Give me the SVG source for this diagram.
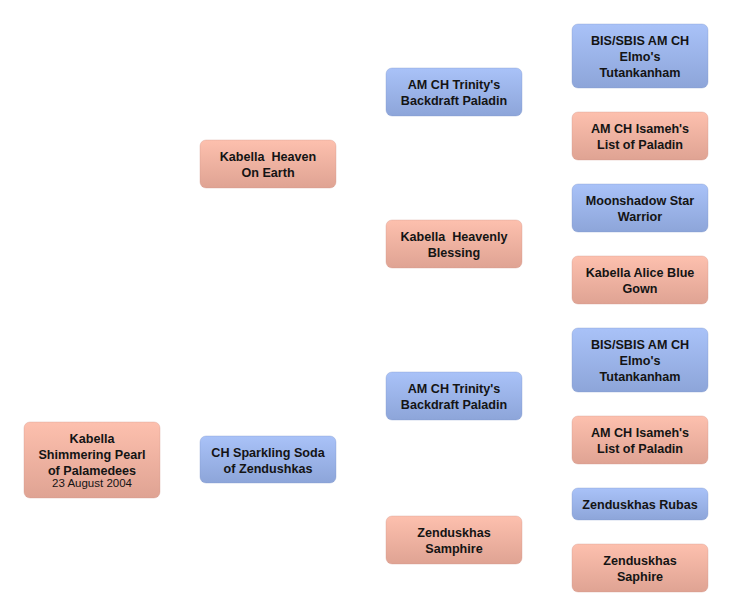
<svg xmlns="http://www.w3.org/2000/svg" width="732" height="616" viewBox="0 0 732 616">
<defs>
<linearGradient id="gp" x1="0" y1="0" x2="0" y2="1">
<stop offset="0" stop-color="#fdc0ae"/>
<stop offset="1" stop-color="#dfa393"/>
</linearGradient>
<linearGradient id="gb" x1="0" y1="0" x2="0" y2="1">
<stop offset="0" stop-color="#a9c2f8"/>
<stop offset="1" stop-color="#8da5d9"/>
</linearGradient>
<style>
.p{fill:url(#gp);stroke:#d0968a;stroke-opacity:0.35;stroke-width:1}
.b{fill:url(#gb);stroke:#7f95c8;stroke-opacity:0.35;stroke-width:1}
text{font-family:"Liberation Sans",Arial,sans-serif;font-size:12.6px;font-weight:bold;fill:#141414;text-anchor:middle;white-space:pre}
text.d{font-weight:normal;font-size:11.5px}
</style>
</defs>
<rect width="732" height="616" fill="#ffffff"/>
<g id="connectors"/>
<g id="n-root"><rect class="p" x="24" y="422" width="136" height="76" rx="6"/>
<text x="92" y="442.5">Kabella</text><text x="92" y="458.5">Shimmering Pearl</text><text x="92" y="474.5">of Palamedees</text><text class="d" x="92" y="486.5">23 August 2004</text></g>
<g id="n-dam"><rect class="p" x="200" y="140" width="136" height="48" rx="6"/>
<text x="268" y="160.5">Kabella  Heaven</text><text x="268" y="176.5">On Earth</text></g>
<g id="n-sire"><rect class="b" x="200" y="436" width="136" height="47" rx="6"/>
<text x="268" y="456.5">CH Sparkling Soda</text><text x="268" y="472.5">of Zendushkas</text></g>
<g id="n-dd-sire"><rect class="b" x="386" y="68" width="136" height="48" rx="6"/>
<text x="454" y="88.5">AM CH Trinity's</text><text x="454" y="104.5">Backdraft Paladin</text></g>
<g id="n-dd-dam"><rect class="p" x="386" y="220" width="136" height="48" rx="6"/>
<text x="454" y="240.5">Kabella  Heavenly</text><text x="454" y="256.5">Blessing</text></g>
<g id="n-ss-sire"><rect class="b" x="386" y="372" width="136" height="48" rx="6"/>
<text x="454" y="392.5">AM CH Trinity's</text><text x="454" y="408.5">Backdraft Paladin</text></g>
<g id="n-ss-dam"><rect class="p" x="386" y="516" width="136" height="48" rx="6"/>
<text x="454" y="536.5">Zenduskhas</text><text x="454" y="552.5">Samphire</text></g>
<g id="n-g1"><rect class="b" x="572" y="24" width="136" height="64" rx="6"/>
<text x="640" y="44.5">BIS/SBIS AM CH</text><text x="640" y="60.5">Elmo's</text><text x="640" y="76.5">Tutankanham</text></g>
<g id="n-g2"><rect class="p" x="572" y="112" width="136" height="48" rx="6"/>
<text x="640" y="132.5">AM CH Isameh's</text><text x="640" y="148.5">List of Paladin</text></g>
<g id="n-g3"><rect class="b" x="572" y="184" width="136" height="48" rx="6"/>
<text x="640" y="204.5">Moonshadow Star</text><text x="640" y="220.5">Warrior</text></g>
<g id="n-g4"><rect class="p" x="572" y="256" width="136" height="48" rx="6"/>
<text x="640" y="276.5">Kabella Alice Blue</text><text x="640" y="292.5">Gown</text></g>
<g id="n-g5"><rect class="b" x="572" y="328" width="136" height="64" rx="6"/>
<text x="640" y="348.5">BIS/SBIS AM CH</text><text x="640" y="364.5">Elmo's</text><text x="640" y="380.5">Tutankanham</text></g>
<g id="n-g6"><rect class="p" x="572" y="416" width="136" height="48" rx="6"/>
<text x="640" y="436.5">AM CH Isameh's</text><text x="640" y="452.5">List of Paladin</text></g>
<g id="n-g7"><rect class="b" x="572" y="488" width="136" height="32" rx="6"/>
<text x="640" y="508.5">Zenduskhas Rubas</text></g>
<g id="n-g8"><rect class="p" x="572" y="544" width="136" height="48" rx="6"/>
<text x="640" y="564.5">Zenduskhas</text><text x="640" y="580.5">Saphire</text></g>
</svg>
